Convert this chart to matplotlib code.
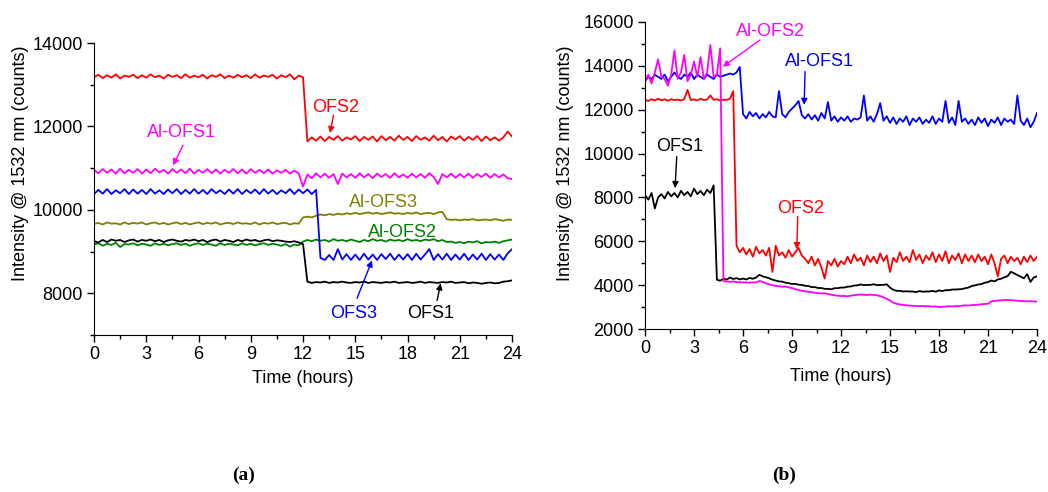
"""Intensity at 1532 nm vs time — panels (a) and (b)."""
import numpy as np
import matplotlib
matplotlib.use("Agg")
import matplotlib.pyplot as plt
from matplotlib.ticker import MultipleLocator

plt.rcParams["font.family"] = ["Liberation Sans", "DejaVu Sans"]

# ---- panel (a): samples every 0.25 h, 0..24 h
t_a = np.arange(97) * 0.25

ofs2_a = [
    13180, 13240, 13160, 13230, 13170, 13250, 13150, 13220, 13190, 13240, 13160, 13230,
    13170, 13250, 13180, 13220, 13150, 13240, 13190, 13230, 13160, 13250, 13170, 13220,
    13180, 13240, 13150, 13230, 13190, 13250, 13160, 13220, 13170, 13240, 13180, 13230,
    13160, 13250, 13170, 13220, 13190, 13240, 13150, 13230, 13180, 13250, 13130, 13220,
    13180, 11640, 11740, 11660, 11760, 11650, 11750, 11680, 11770, 11660, 11740, 11690,
    11770, 11650, 11750, 11680, 11760, 11640, 11770, 11670, 11750, 11660, 11780, 11680,
    11750, 11650, 11770, 11680, 11740, 11660, 11780, 11670, 11750, 11640, 11760, 11690,
    11770, 11660, 11750, 11680, 11770, 11650, 11760, 11670, 11740, 11660, 11740, 11880,
    11760,
]
al_ofs1_a = [
    10960, 10880, 10980, 10890, 10970, 10870, 10990, 10880, 10960, 10890, 10980, 10870,
    10970, 10880, 10990, 10900, 10960, 10870, 10980, 10890, 10970, 10880, 10990, 10870,
    10960, 10890, 10980, 10880, 10970, 10870, 10960, 10890, 10980, 10880, 10970, 10870,
    10980, 10890, 10960, 10880, 10970, 10870, 10950, 10890, 10960, 10870, 10940, 10880,
    10560, 10850, 10760, 10880, 10780, 10870, 10770, 10860, 10620, 10870, 10780, 10860,
    10770, 10880, 10780, 10860, 10760, 10870, 10790, 10860, 10770, 10880, 10780, 10850,
    10770, 10870, 10780, 10860, 10770, 10880, 10790, 10620, 10860, 10780, 10870, 10770,
    10860, 10780, 10870, 10770, 10860, 10790, 10870, 10770, 10860, 10780, 10850, 10760,
    10740,
]
ofs3_a = [
    10380, 10480, 10390, 10500, 10380, 10470, 10400, 10500, 10380, 10490, 10390, 10480,
    10380, 10500, 10390, 10470, 10380, 10490, 10400, 10500, 10380, 10480, 10390, 10500,
    10390, 10480, 10380, 10500, 10400, 10470, 10380, 10490, 10390, 10500, 10380, 10480,
    10400, 10490, 10380, 10500, 10390, 10480, 10380, 10470, 10400, 10500, 10380, 10490,
    10400, 10490, 10380, 10480, 8850, 8800, 8920, 8800, 9060, 8810, 8940, 8800,
    8930, 8800, 8950, 8810, 8930, 8800, 8940, 8820, 8950, 8800, 8930, 8810,
    8940, 8800, 8950, 8810, 8930, 9060, 8800, 8940, 8810, 8950, 8800, 8930,
    8810, 8950, 8800, 8930, 8810, 8950, 8800, 8940, 8810, 8930, 8800, 8960,
    9060,
]
al_ofs3_a = [
    9660, 9690, 9650, 9700, 9670, 9680, 9650, 9700, 9660, 9690, 9670, 9700,
    9650, 9680, 9700, 9660, 9690, 9650, 9680, 9700, 9660, 9690, 9650, 9680,
    9700, 9660, 9690, 9670, 9700, 9650, 9680, 9690, 9660, 9700, 9670, 9680,
    9660, 9700, 9650, 9690, 9670, 9700, 9660, 9680, 9690, 9650, 9680, 9670,
    9820, 9840, 9820, 9860, 9890, 9870, 9900, 9880, 9910, 9890, 9920, 9900,
    9930, 9900, 9920, 9940, 9910, 9930, 9900, 9920, 9940, 9910, 9920, 9900,
    9930, 9910, 9940, 9900, 9920, 9930, 9900, 9940, 9950, 9780, 9760, 9770,
    9750, 9770, 9760, 9780, 9750, 9760, 9770, 9750, 9780, 9760, 9740, 9770,
    9760,
]
al_ofs2_a = [
    9170, 9200, 9140, 9190, 9160, 9210, 9110, 9180, 9170, 9200, 9150, 9190,
    9170, 9140, 9200, 9160, 9190, 9150, 9180, 9200, 9160, 9190, 9140, 9180,
    9200, 9160, 9190, 9170, 9140, 9200, 9160, 9190, 9170, 9150, 9200, 9160,
    9190, 9150, 9180, 9200, 9160, 9190, 9170, 9140, 9180, 9120, 9170, 9150,
    9240, 9280, 9250, 9290, 9260, 9280, 9240, 9300, 9260, 9280, 9250, 9290,
    9260, 9230, 9280, 9250, 9300, 9260, 9280, 9240, 9290, 9260, 9280, 9250,
    9300, 9260, 9280, 9250, 9290, 9270, 9300, 9250, 9280, 9230, 9240, 9210,
    9230, 9200, 9240, 9220, 9250, 9200, 9230, 9220, 9240, 9210, 9250, 9270,
    9290,
]
ofs1_a = [
    9250, 9220, 9280, 9230, 9290, 9260, 9280, 9230, 9270, 9290, 9240, 9280,
    9260, 9290, 9250, 9280, 9230, 9270, 9290, 9260, 9240, 9280, 9260, 9290,
    9250, 9280, 9230, 9270, 9290, 9240, 9280, 9260, 9230, 9280, 9250, 9290,
    9260, 9280, 9240, 9270, 9290, 9250, 9270, 9260, 9240, 9230, 9250, 9220,
    9180, 8280, 8250, 8270, 8260, 8280, 8250, 8270, 8260, 8280, 8260, 8250,
    8270, 8260, 8280, 8250, 8270, 8260, 8250, 8270, 8260, 8280, 8250, 8260,
    8270, 8250, 8260, 8280, 8250, 8270, 8260, 8250, 8270, 8260, 8280, 8250,
    8260, 8270, 8240, 8260, 8250, 8230, 8250, 8260, 8240, 8250, 8280, 8290,
    8310,
]

# ---- panel (b): samples every 0.2 h, 0..24 h
t_b = np.arange(121) * 0.2

al_ofs2_b = [
    13300, 13600, 13200, 13700, 14300, 13500, 13400, 13100, 13600, 14700,
    13400, 13700, 14500, 13300, 13600, 14200, 13500, 14400, 13400, 13700,
    14950, 13500, 13600, 14800, 4180, 4170, 4150, 4170, 4140, 4130,
    4130, 4120, 4110, 4130, 4120, 4190, 4150, 4080, 4040, 4000,
    3960, 3950, 3930, 3940, 3900, 3870, 3820, 3780, 3740, 3720,
    3700, 3680, 3650, 3640, 3620, 3630, 3600, 3560, 3540, 3520,
    3500, 3510, 3490, 3520, 3540, 3560, 3570, 3560, 3550, 3570,
    3550, 3540, 3500, 3450, 3380, 3300, 3200, 3150, 3120, 3100,
    3080, 3070, 3060, 3050, 3040, 3050, 3030, 3040, 3020, 3030,
    3000, 3010, 3020, 3040, 3030, 3050, 3040, 3060, 3080, 3070,
    3090, 3100, 3110, 3130, 3140, 3150, 3260, 3280, 3300, 3310,
    3320, 3330, 3310, 3300, 3290, 3280, 3270, 3260, 3270, 3260,
    3250,
]
ofs1_b = [
    8100, 7900, 8200, 7500, 8000, 8150, 7950, 8250, 8050, 8200,
    8000, 8300, 8100, 8250, 8050, 8400, 8150, 8300, 8100, 8350,
    8200, 8550, 4250, 4200, 4300, 4250, 4350, 4280, 4320, 4260,
    4300, 4260, 4330, 4290, 4350, 4470, 4400, 4360, 4310, 4250,
    4210, 4170, 4160, 4110, 4090, 4050, 4060, 4020, 4010, 3970,
    3960, 3910, 3910, 3870, 3870, 3830, 3830, 3810, 3860, 3860,
    3890, 3890, 3930, 3940, 3980, 3990, 4030, 4000, 4010, 4010,
    4040, 4000, 4010, 4010, 4040, 3890, 3790, 3740, 3740, 3710,
    3720, 3710, 3710, 3680, 3730, 3700, 3710, 3710, 3740, 3700,
    3760, 3730, 3770, 3770, 3800, 3800, 3810, 3820, 3860, 3890,
    3960, 3990, 4030, 4050, 4110, 4140, 4210, 4170, 4260, 4290,
    4360, 4410, 4610, 4540, 4460, 4390, 4310, 4500, 4150, 4350,
    4400,
]
ofs2_b = [
    12450, 12400, 12480, 12420, 12500, 12430, 12470, 12410, 12480, 12440,
    12460, 12420, 12480, 12900, 12440, 12470, 12420, 12500, 12440, 12470,
    12650, 12450, 12480, 12420, 12460, 12450, 12500, 12850, 5800, 5500,
    5700, 5400, 5650, 5300, 5750, 5450, 5600, 5350, 5700, 4600,
    5800, 5350, 5500, 5250, 5600, 5300, 5500, 5700, 5350, 5200,
    5000, 5300, 4900, 5200, 4800, 4300, 5100, 4900, 5200, 4850,
    5100, 4950, 5300, 5000, 5400, 5100, 5250, 4900, 5350, 5050,
    5300, 5000, 5450, 5100, 5350, 4600, 5250, 5050, 5500, 5100,
    5300, 5050, 5600, 5150, 5400, 5000, 5350, 5150, 5500, 5050,
    5400, 5100, 5550, 5000, 5350, 5150, 5450, 5000, 5400, 5100,
    5350, 5050, 5400, 5100, 5300, 4950, 5400, 5000, 4400, 5200,
    5350, 5000, 5300, 5100, 5250, 4950, 5300, 5050, 5350, 5100,
    5300,
]
al_ofs1_b = [
    13300, 13500, 13400, 13600, 13500, 13400, 13600, 13300, 13500, 13700,
    13500, 13400, 13600, 13500, 13700, 13400, 13600, 13500, 13400, 13600,
    13500, 13400, 13600, 13500, 13550, 13600, 13650, 13600, 13700, 13950,
    11800, 11600, 11900, 11700, 11850, 11600, 11800, 11650, 11900, 11700,
    11650, 12850, 11800, 11650, 11900, 12050, 12200, 12400, 11750, 11600,
    11800, 11550, 11750, 11500, 11850, 11600, 12350, 11500, 11700, 11450,
    11650, 11500, 11700, 11450, 11600, 11550, 11650, 12650, 11500, 11700,
    11450, 11800, 12300, 11500, 11700, 11400, 11650, 11350, 11600, 11450,
    11700, 11300, 11600, 11450, 11650, 11350, 11550, 11400, 11700, 11350,
    11600, 11450, 12400, 11400, 11650, 11300, 12400, 11450, 11600, 11350,
    11550, 11300, 11650, 11400, 11600, 11250, 11550, 11400, 11650, 11300,
    11600, 11450, 11550, 11350, 12650, 11500, 11300, 11600, 11200, 11450,
    11850,
]

RED, MAG, BLUE, OLIVE, GREEN, BLACK = "#ff0000", "#ff00ff", "#0000ff", "#808000", "#008000", "#000000"

LW = 1.3
FS = 13


def style_axes(ax, ylo, yhi):
    for side in ("top", "right"):
        ax.spines[side].set_visible(False)
    ax.set_xlim(0, 24)
    ax.set_ylim(ylo, yhi)
    ax.xaxis.set_major_locator(MultipleLocator(3))
    ax.xaxis.set_minor_locator(MultipleLocator(1.5))
    ax.yaxis.set_major_locator(MultipleLocator(2000))
    ax.yaxis.set_minor_locator(MultipleLocator(1000))
    ax.tick_params(which="major", length=5, width=1, labelsize=13, pad=3)
    ax.tick_params(which="minor", length=3, width=1)
    ax.set_xlabel("Time (hours)", fontsize=FS)
    ax.set_ylabel("Intensity @ 1532 nm (counts)", fontsize=FS)


def label(ax, text, color, txy, tail=None, head=None):
    ax.text(txy[0], txy[1], text, color=color, fontsize=FS, ha="center", va="center")
    if tail is not None:
        ax.annotate("", xy=head, xytext=tail,
                    arrowprops=dict(arrowstyle="-|>", color=color, lw=1.0,
                                    mutation_scale=9, shrinkA=0, shrinkB=0))


def main():
    fig = plt.figure(figsize=(10.48, 4.92), dpi=100)

    # (a)
    ax = fig.add_axes([0.0897, 0.319, 0.3989, 0.5935])
    ax.plot(t_a, al_ofs3_a, color=OLIVE, lw=LW)
    ax.plot(t_a, al_ofs2_a, color=GREEN, lw=LW)
    ax.plot(t_a, ofs1_a, color=BLACK, lw=LW)
    ax.plot(t_a, ofs3_a, color=BLUE, lw=LW)
    ax.plot(t_a, al_ofs1_a, color=MAG, lw=LW)
    ax.plot(t_a, ofs2_a, color=RED, lw=LW)
    style_axes(ax, 7000, 14000)
    ax.yaxis.set_label_coords(-0.156, 0.59)
    ax.xaxis.set_label_coords(0.5, -0.12)

    label(ax, "OFS2", RED, (13.87, 12460), (13.75, 12270), (13.55, 11840))
    label(ax, "Al-OFS1", MAG, (5.0, 11860), (5.11, 11550), (4.54, 11070))
    label(ax, "Al-OFS3", OLIVE, (16.6, 10180))
    label(ax, "Al-OFS2", GREEN, (17.7, 9460))
    label(ax, "OFS3", BLUE, (14.9, 7520), (15.1, 7880), (15.96, 8790))
    label(ax, "OFS1", BLACK, (19.35, 7520), (19.7, 7830), (19.9, 8240))

    # (b)
    ax = fig.add_axes([0.6155, 0.3313, 0.374, 0.624])
    ax.plot(t_b, ofs1_b, color=BLACK, lw=LW)
    ax.plot(t_b, ofs2_b, color=RED, lw=LW)
    ax.plot(t_b, al_ofs1_b, color=BLUE, lw=LW)
    ax.plot(t_b, al_ofs2_b, color=MAG, lw=LW)
    style_axes(ax, 2000, 16000)
    ax.yaxis.set_label_coords(-0.181, 0.54)
    ax.xaxis.set_label_coords(0.5, -0.127)

    label(ax, "Al-OFS2", MAG, (7.65, 15560), (7.04, 15180), (4.76, 13960))
    label(ax, "Al-OFS1", BLUE, (10.66, 14190), (9.8, 13740), (9.74, 12220))
    label(ax, "OFS1", BLACK, (2.14, 10320), (1.94, 9860), (1.84, 8420))
    label(ax, "OFS2", RED, (9.5, 7510), (9.35, 7130), (9.29, 5640))

    fig.text(0.232, 0.033, "(a)", fontsize=14, fontweight="bold",
             family=["Liberation Serif", "DejaVu Serif"], ha="center", va="center")
    fig.text(0.748, 0.033, "(b)", fontsize=14, fontweight="bold",
             family=["Liberation Serif", "DejaVu Serif"], ha="center", va="center")

    fig.savefig("out.png", dpi=100)
    plt.close(fig)


if __name__ == "__main__":
    main()
